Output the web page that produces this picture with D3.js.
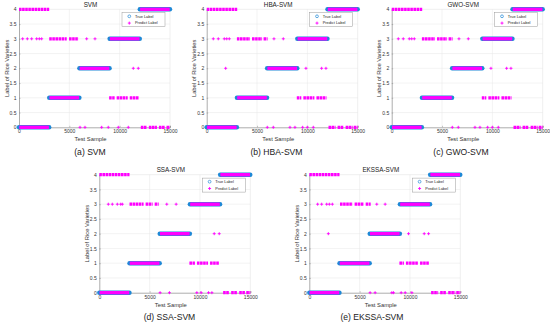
<html>
<head>
<script src="https://cdnjs.cloudflare.com/ajax/libs/d3/7.8.5/d3.min.js"></script>
<style>
  body { margin: 0; background: #fff; }
  svg { display: block; font-family: "Liberation Sans", Arial, sans-serif; }
  .tick text { font-size: 5px; fill: #333; }
  .grid line { stroke: #e6e6e6; stroke-width: 0.5; }
  .axisline { stroke: #8a8a8a; stroke-width: 0.7; }
  .boxline { stroke: #dedede; stroke-width: 0.5; }
  .title { font-size: 6.3px; fill: #222; }
  .label { font-size: 5.8px; fill: #333; }
  .caption { font-size: 8.6px; fill: #222; }
  .legend text { font-size: 3.9px; fill: #222; }
</style>
</head>
<body>
<svg width="550" height="324"></svg>
<script>
// true label segments: [start sample, end sample, class]
const trueSegments = [[0, 3000, 0], [3000, 6000, 1], [6000, 9000, 2], [9000, 12000, 3], [12000, 15000, 4]];
const xTicks = [0, 5000, 10000, 15000];
const yTicks = [0, 0.5, 1, 1.5, 2, 2.5, 3, 3.5, 4];

const models = ['SVM', 'HBA-SVM', 'GWO-SVM', 'SSA-SVM', 'EKSSA-SVM'];
const captions = ['(a) SVM', '(b) HBA-SVM', '(c) GWO-SVM', '(d) SSA-SVM', '(e) EKSSA-SVM'];

// dense runs of wrong predictions: [start, end, predicted class]
const svmBands = [[0, 3000, 4], [3000, 4740, 3], [4970, 5900, 3], [8950, 9500, 1], [9700, 10800, 1], [11000, 11900, 1],
  [12100, 12700, 0], [12900, 13700, 0], [13900, 14500, 0], [14650, 15000, 0]];
const hbaBands = [[0, 3050, 4], [3000, 4300, 3], [4500, 5500, 3], [5650, 6050, 3], [8950, 9400, 1], [9600, 10700, 1], [10900, 11900, 1],
  [12100, 12800, 0], [13000, 13600, 0], [13800, 14500, 0], [14600, 15000, 0]];
const gwoBands = [[0, 3050, 4], [3000, 4300, 3], [4500, 5500, 3], [5650, 6050, 3], [8950, 9400, 1], [9600, 10700, 1], [10900, 11900, 1],
  [12100, 12800, 0], [13000, 13600, 0], [13800, 14500, 0], [14600, 15000, 0]];
const ssaBands = [[0, 3000, 4], [3000, 4400, 3], [4600, 5300, 3], [5500, 5900, 3], [8950, 9500, 1], [9700, 10800, 1], [11000, 11900, 1],
  [12300, 12900, 0], [13100, 13700, 0], [13900, 14500, 0], [14600, 15000, 0]];
const ekssaBands = [[0, 3000, 4], [3050, 4300, 3], [4500, 5400, 3], [5600, 6100, 3], [8950, 9400, 1], [9600, 10800, 1], [11000, 11900, 1],
  [12100, 12800, 0], [13000, 13600, 0], [13800, 14500, 0], [14600, 15000, 0]];

// isolated wrong predictions: [sample, predicted class]
const svmPoints = [[364, 3], [828, 3], [1258, 3], [1755, 3], [2020, 3], [2252, 3], [6722, 3], [7550, 3],
  [11355, 2], [11850, 2], [6060, 0], [6556, 0], [8212, 0], [8870, 0], [9866, 0], [10860, 0]];
const hbaPoints = [[656, 3], [1152, 3], [1748, 3], [1990, 3], [2245, 3], [6683, 3], [7610, 3],
  [1884, 2], [9860, 2], [11417, 2], [11847, 2], [6020, 0], [6616, 0], [8272, 0], [8768, 0], [9530, 0], [9994, 0], [10590, 0]];
const gwoPoints = [[656, 3], [1152, 3], [1748, 3], [1990, 3], [2245, 3], [6683, 3], [7610, 3],
  [9860, 2], [11417, 2], [11847, 2], [6020, 0], [6616, 0], [8272, 0], [8768, 0], [9530, 0], [9994, 0], [10590, 0]];
const ssaPoints = [[896, 3], [1294, 3], [1792, 3], [2124, 3], [2290, 3], [6704, 3], [7634, 3],
  [11417, 2], [11915, 2], [6040, 0], [6970, 0], [9690, 0], [10120, 0], [10850, 0], [11185, 0]];
const ekssaPoints = [[830, 3], [1228, 3], [1726, 3], [1991, 3], [2290, 3], [6704, 3], [7534, 3],
  [1892, 2], [9857, 2], [11417, 2], [11849, 2], [6040, 0], [6538, 0], [8198, 0], [8364, 0], [9127, 0], [9525, 0], [10190, 0]];

const bands = [svmBands, hbaBands, gwoBands, ssaBands, ekssaBands];
const points = [svmPoints, hbaPoints, gwoPoints, ssaPoints, ekssaPoints];

// plot boxes on the page
const layout = [
  { x: 19, y: 9.3, cx: 90, cy: 154.5 },
  { x: 206.7, y: 9.3, cx: 276.5, cy: 154.5 },
  { x: 391.7, y: 9.3, cx: 461, cy: 154.5 },
  { x: 99.3, y: 174.7, cx: 169.5, cy: 319.5 },
  { x: 309.3, y: 174.7, cx: 372, cy: 319.5 }
];
const w = 151, h = 118;
const blue = '#1f88d6', magenta = '#ff00ff';

const svg = d3.select('svg');
const plus = (g, x, y, s) => g.append('path')
  .attr('d', `M${x - s},${y}H${x + s}M${x},${y - s}V${y + s}`)
  .attr('stroke', magenta).attr('stroke-width', 0.9).attr('fill', 'none');

models.forEach((name, i) => {
  const L = layout[i];
  const g = svg.append('g').attr('transform', `translate(${L.x}, ${L.y})`);
  const x = d3.scaleLinear().domain([0, 15000]).range([0, w]);
  const y = d3.scaleLinear().domain([0, 4]).range([h, 0]);

  // grid
  g.append('g').attr('class', 'grid')
    .selectAll('line').data(xTicks.slice(1, -1)).join('line')
    .attr('x1', d => x(d)).attr('x2', d => x(d)).attr('y1', 0).attr('y2', h);
  g.append('g').attr('class', 'grid')
    .selectAll('line').data(yTicks.slice(1, -1)).join('line')
    .attr('x1', 0).attr('x2', w).attr('y1', d => y(d)).attr('y2', d => y(d));

  // box top/right
  g.append('line').attr('class', 'boxline').attr('x1', 0).attr('x2', w).attr('y1', 0).attr('y2', 0);
  g.append('line').attr('class', 'boxline').attr('x1', w).attr('x2', w).attr('y1', 0).attr('y2', h);

  // axes
  const xa = g.append('g').attr('transform', `translate(0, ${h})`)
    .call(d3.axisBottom(x).tickValues(xTicks).tickSize(-1.5).tickPadding(2.5).tickFormat(d3.format('d')));
  const ya = g.append('g')
    .call(d3.axisLeft(y).tickValues(yTicks).tickSize(-1.5).tickPadding(2.5).tickFormat(d => d));
  [xa, ya].forEach(a => {
    a.select('.domain').attr('class', 'axisline').attr('fill', 'none');
    a.selectAll('.tick line').attr('stroke', '#8a8a8a').attr('stroke-width', 0.5);
  });

  // true labels (blue circles, drawn as dense runs)
  g.append('g').selectAll('line').data(trueSegments).join('line')
    .attr('x1', d => x(d[0])).attr('x2', d => x(d[1]))
    .attr('y1', d => y(d[2])).attr('y2', d => y(d[2]))
    .attr('stroke', blue).attr('stroke-width', 4.4).attr('stroke-linecap', 'round');

  // correct predictions over true runs
  g.append('g').selectAll('line').data(trueSegments).join('line')
    .attr('x1', d => x(d[0]) + 0.3).attr('x2', d => x(d[1]) - 0.3)
    .attr('y1', d => y(d[2])).attr('y2', d => y(d[2]))
    .attr('stroke', magenta).attr('stroke-width', 3.4);

  // dense wrong predictions
  g.append('g').selectAll('line').data(bands[i]).join('line')
    .attr('x1', d => x(d[0])).attr('x2', d => x(d[1]))
    .attr('y1', d => y(d[2])).attr('y2', d => y(d[2]))
    .attr('stroke', magenta).attr('stroke-width', 3.2).attr('stroke-dasharray', '2.6 0.5');

  // isolated wrong predictions
  const pg = g.append('g');
  points[i].forEach(p => plus(pg, x(p[0]), y(p[1]), 1.5));

  // legend
  const lg = g.append('g').attr('class', 'legend').attr('transform', `translate(${w - 48}, 3.4)`);
  lg.append('rect').attr('width', 43).attr('height', 14)
    .attr('fill', '#fff').attr('stroke', '#9a9a9a').attr('stroke-width', 0.5);
  lg.append('circle').attr('cx', 7.3).attr('cy', 3.6).attr('r', 1.4)
    .attr('fill', 'none').attr('stroke', blue).attr('stroke-width', 0.7);
  lg.append('text').attr('x', 13).attr('y', 5).text('True Label');
  plus(lg, 7.3, 10.4, 1.5);
  lg.append('text').attr('x', 13).attr('y', 11.8).text('Predict Label');

  // labels
  g.append('text').attr('class', 'title').attr('x', w / 2 - 4).attr('y', -2.8)
    .attr('text-anchor', 'middle').text(name);
  g.append('text').attr('class', 'label').attr('x', w / 2 - 4).attr('y', h + 14)
    .attr('text-anchor', 'middle').text('Test Sample');
  g.append('text').attr('class', 'label').attr('transform', `translate(-10.5, ${h / 2}) rotate(-90)`)
    .attr('text-anchor', 'middle').text('Label of Rice Varieties');

  svg.append('text').attr('class', 'caption').attr('x', L.cx).attr('y', L.cy)
    .attr('text-anchor', 'middle').text(captions[i]);
});
</script>
</body>
</html>
